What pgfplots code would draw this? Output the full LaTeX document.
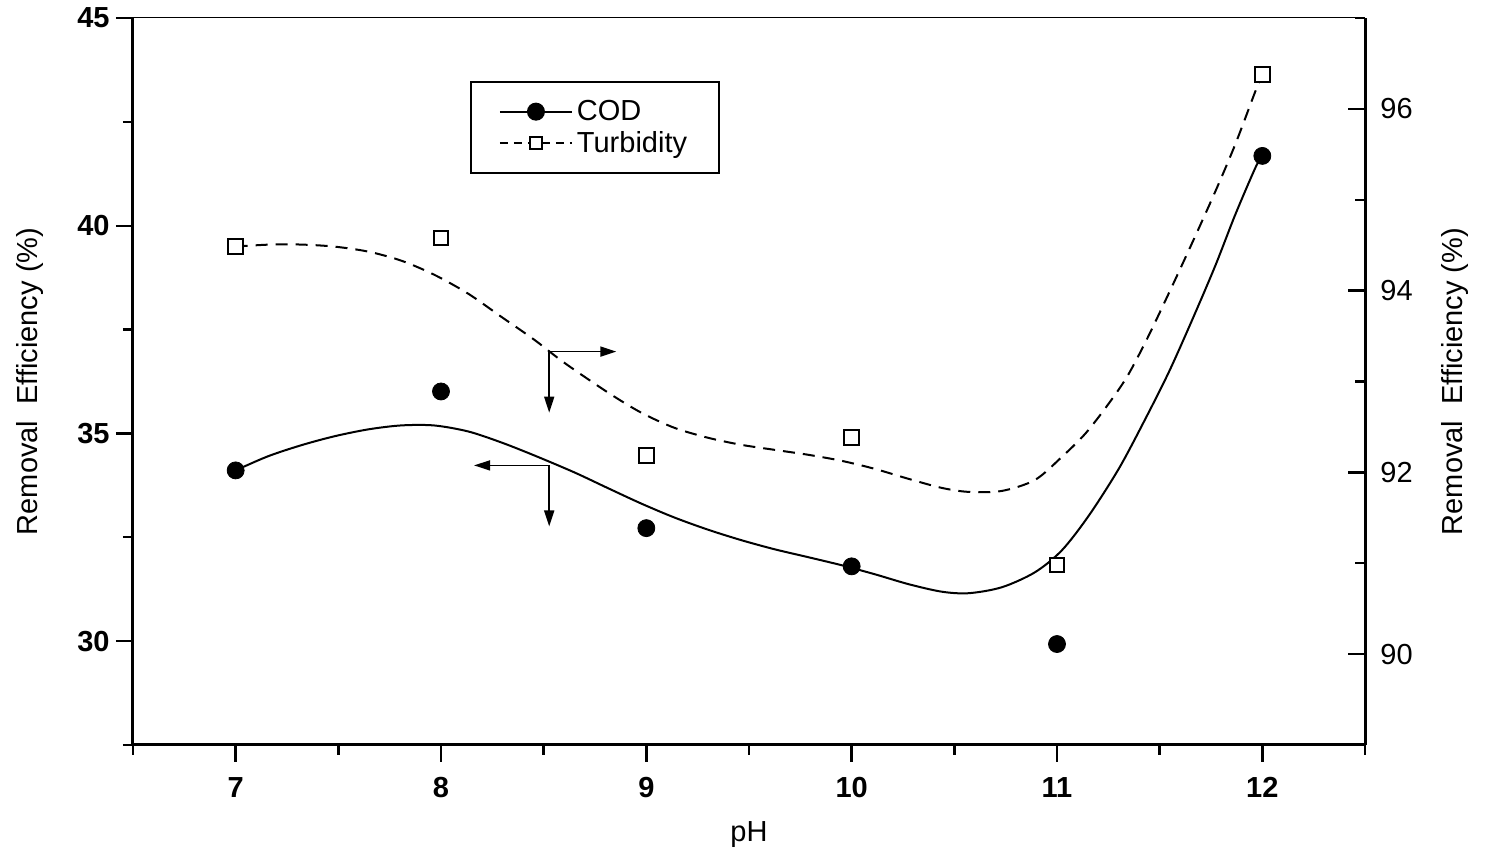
\documentclass[border=0pt]{standalone}
\usepackage{fontspec}
\setmainfont{Liberation Sans}
\usepackage{pgfplots}
\usepackage{pgfplotstable}
\pgfplotsset{compat=1.18}
\usetikzlibrary{arrows.meta}

\newcommand{\cf}{\fontsize{14.5pt}{17pt}\selectfont}

% fitted curves
\pgfplotstableread{
x y
7 34.11
7.156 34.447
7.317 34.712
7.478 34.928
7.644 35.096
7.805 35.192
7.966 35.192
8.132 35.048
8.293 34.784
8.454 34.471
8.649 34.063
8.815 33.678
8.976 33.310
9.137 32.975
9.302 32.680
9.463 32.430
9.624 32.212
9.790 32.019
9.951 31.827
10.112 31.611
10.278 31.370
10.439 31.190
10.571 31.154
10.732 31.298
10.893 31.659
11.024 32.188
11.156 33.029
11.302 34.159
11.429 35.337
11.546 36.490
11.659 37.740
11.771 39.038
11.868 40.264
11.966 41.394
12 41.68
}\codcurve

\pgfplotstableread{
x y
7 94.485
7.171 94.507
7.317 94.507
7.478 94.485
7.644 94.430
7.805 94.331
7.966 94.176
8.132 93.967
8.293 93.713
8.454 93.460
8.600 93.207
8.815 92.876
8.976 92.656
9.137 92.490
9.302 92.380
9.463 92.303
9.624 92.248
9.790 92.193
9.951 92.127
10.112 92.039
10.278 91.928
10.439 91.829
10.571 91.785
10.732 91.796
10.893 91.917
11.024 92.171
11.137 92.424
11.244 92.733
11.341 93.052
11.439 93.471
11.546 93.978
11.659 94.529
11.771 95.091
11.868 95.609
11.966 96.193
12 96.38
}\turbcurve

\begin{document}
\begin{tikzpicture}
\pgfplotsset{
  common/.style={
    scale only axis, width=616pt, height=363.5pt,
    xmin=6.5, xmax=12.5,
    axis line style={line width=1.5pt},
    major tick length=8.5pt, minor tick length=5pt,
    tick style={line width=1.2pt,black},
    /pgf/number format/assume math mode=true,
  }
}
\begin{axis}[
  common, name=left,
  ymin=27.5, ymax=45,
  axis x line*=bottom, axis y line*=left,
  xtick={7,...,12}, minor xtick={6.5,7.5,...,12.5},
  ytick={30,35,40,45}, minor ytick={27.5,32.5,37.5,42.5},
  tick align=outside,
  tick label style={font=\cf\bfseries, inner sep=0pt},
  xticklabel shift=7.5pt, yticklabel shift=3pt,
  xlabel={pH}, ylabel={Removal\ \ Efficiency (\%)},
  every axis x label/.style={at={(axis description cs:0.5,-0.1237)},anchor=center,font=\cf},
  every axis y label/.style={at={(axis description cs:-0.0836,0.5)},rotate=90,anchor=center,font=\cf},
]
\addplot[black, line width=1pt, smooth, tension=0.5] table {\codcurve};
\addplot[black, only marks, mark=*, mark size=4.25pt] coordinates {
  (7,34.11) (8,36.01) (9,32.72) (10,31.80) (11,29.93) (12,41.68)
};
% arrows pointing to each axis
\draw[line width=0.8pt, -{Triangle[length=8pt,width=5pt]}] (axis cs:8.527,36.97) -- (axis cs:8.854,36.97);
\draw[line width=0.8pt, -{Triangle[length=8pt,width=5pt]}] (axis cs:8.527,36.97) -- (axis cs:8.527,35.50);
\draw[line width=0.8pt, -{Triangle[length=8pt,width=5pt]}] (axis cs:8.527,34.23) -- (axis cs:8.161,34.23);
\draw[line width=0.8pt, -{Triangle[length=8pt,width=5pt]}] (axis cs:8.527,34.23) -- (axis cs:8.527,32.76);
\end{axis}

\begin{axis}[
  common,
  ymin=89, ymax=97,
  axis x line=none, axis y line*=right,
  ytick={90,92,94,96}, minor ytick={89,91,93,95,97},
  tick align=inside,
  tick label style={font=\cf, inner sep=0pt},
  yticklabel shift=7.5pt,
  ylabel={Removal\ \ Efficiency (\%)},
  every axis y label/.style={at={(axis description cs:1.073,0.5)},rotate=90,anchor=center,font=\cf},
  legend style={at={(axis description cs:0.2735,0.9133)}, anchor=north west,
    draw=black, line width=1pt, inner xsep=14pt, inner ysep=7pt,
    font=\cf, row sep=0pt, cells={anchor=west}},
  legend image code/.code={\draw[mark repeat=2,mark phase=2] plot coordinates {(0pt,0pt) (18pt,0pt) (36pt,0pt)};},
]
\addplot[black, line width=1pt, dash pattern=on 6pt off 4pt, smooth, tension=0.5, forget plot] table {\turbcurve};
\addplot[black, only marks, mark=square*, mark options={fill=white, line width=1pt}, mark size=3.7pt, forget plot] coordinates {
  (7,94.485) (8,94.58) (9,92.19) (10,92.38) (11,90.98) (12,96.38)
};
\addlegendimage{black, line width=1pt, mark=*, mark size=4pt}
\addlegendentry{COD}
\addlegendimage{black, line width=1pt, dash pattern=on 4pt off 3pt, mark=square*, mark options={fill=white, solid}, mark size=3pt}
\addlegendentry{Turbidity}
\end{axis}

\draw[line width=0.5pt] (left.north west) -- (left.north east);
\pgfresetboundingbox
\path ([shift={(-66.5pt,-54.5pt)}]left.south west) rectangle ([shift={(61pt,9pt)}]left.north east);
\end{tikzpicture}
\end{document}
